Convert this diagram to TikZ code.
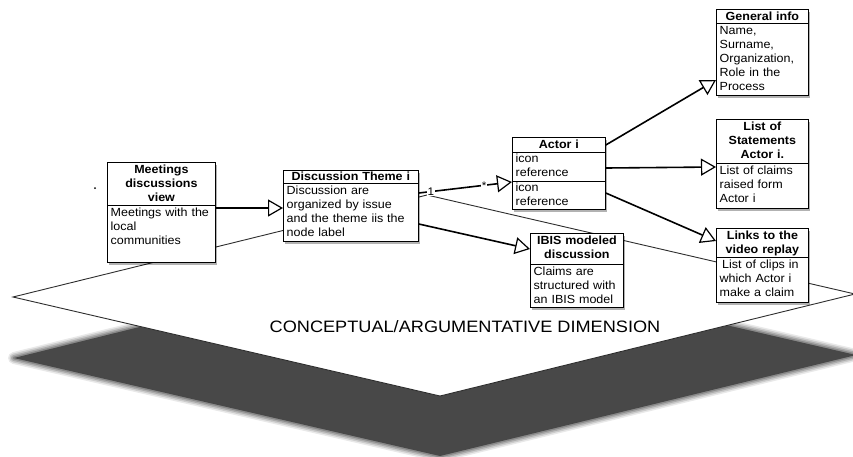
\documentclass[tikz,border=0pt]{standalone}
\usepackage{fontspec}
\setmainfont{Liberation Sans}[FakeStretch=1.06]
\newfontfamily\dimfont{Liberation Sans}[FakeStretch=1.1]
\usetikzlibrary{arrows.meta,shadows,calc}

\definecolor{shadowgray}{RGB}{72,72,72}
\definecolor{planeedge}{RGB}{45,45,45}

% first-line struts that fix the baseline below the top of a compartment
\newcommand\headstrut{\rule{0pt}{11.5pt}}
\newcommand\bodystrut{\rule{0pt}{11.5pt}}

\tikzset{
  umlbox/.style={draw=black, line width=0.8pt, fill=white, anchor=north west,
    inner sep=0pt,
    drop shadow={shadow xshift=2pt, shadow yshift=-2.5pt, fill=black, opacity=0.3}},
  divider/.style={draw=black, line width=0.8pt},
  headtext/.style={anchor=north, inner sep=0pt, text width=#1, align=center,
    font=\bfseries\fontsize{11.8}{14}\selectfont},
  bodytext/.style={anchor=north west, inner sep=0pt, text width=#1, align=left,
    font=\fontsize{11.8}{14}\selectfont},
  gen/.style={line width=1.6pt,
    -{Triangle[open, length=15pt, width=17pt, line width=1.2pt]}},
  multlabel/.style={fill=white, inner sep=1pt, font=\fontsize{11}{12}\selectfont},
  planeline/.style={draw=planeedge, line width=0.9pt, line join=miter},
}

\begin{document}
\begin{tikzpicture}[x=1pt, y=-1pt]
\useasboundingbox (0,0) rectangle (853,456);
\clip (0,0) rectangle (853,456);

% ---- the plane and its cast shadow ----
\coordinate (pl-left)   at (13,297);
\coordinate (pl-top)    at (427,195);
\coordinate (pl-right)  at (855,294);
\coordinate (pl-bottom) at (440,396);

\coordinate (sh-left)   at (14,358);
\coordinate (sh-top)    at (427,256);
\coordinate (sh-right)  at (856,355);
\coordinate (sh-bottom) at (440,456);

\foreach \w/\o in {12/0.12, 9/0.18, 6/0.25, 3/0.35}
  \draw[draw=shadowgray, line width=\w pt, opacity=\o, line join=round]
    (sh-left) -- (sh-top) -- (sh-right) -- (sh-bottom) -- cycle;
\fill[shadowgray] (sh-left) -- (sh-top) -- (sh-right) -- (sh-bottom) -- cycle;

\filldraw[fill=white, planeline]
  (pl-left) -- (pl-top) -- (pl-right) -- (pl-bottom) -- cycle;

\node[anchor=base, font=\dimfont\fontsize{16.5}{18}\selectfont] (dimlabel)
  at (465,332) {CONCEPTUAL/ARGUMENTATIVE DIMENSION};

% ---- class boxes ----
% Meetings discussions view
\node[umlbox, minimum width=108pt, minimum height=100pt] (meet) at (107,162) {};
\draw[divider] ($(meet.north west)+(0,43)$) -- ($(meet.north east)+(0,43)$);
\node[headtext=104pt] (meet-h) at (meet.north) {\headstrut Meetings\\discussions\\view};
\node[bodytext=102pt] (meet-b) at ($(meet.north west)+(3.5,43)$)
  {\bodystrut Meetings with the\\local\\communities};

% Discussion Theme i
\node[umlbox, minimum width=135pt, minimum height=71pt] (disc) at (283,170) {};
\draw[divider] ($(disc.north west)+(0,13)$) -- ($(disc.north east)+(0,13)$);
\node[headtext=131pt] (disc-h) at ($(disc.north)+(0,-1)$) {\headstrut Discussion Theme i};
\node[bodytext=129pt] (disc-b) at ($(disc.north west)+(3.5,13)$)
  {\bodystrut Discussion are\\organized by issue\\and the theme iis the\\node label};

% Actor i
\node[umlbox, minimum width=93pt, minimum height=72pt] (actor) at (512,137) {};
\draw[divider] ($(actor.north west)+(0,15)$) -- ($(actor.north east)+(0,15)$);
\draw[divider] ($(actor.north west)+(0,44)$) -- ($(actor.north east)+(0,44)$);
\node[headtext=89pt] (actor-h) at (actor.north) {\headstrut Actor i};
\node[bodytext=87pt] (actor-b1) at ($(actor.north west)+(3.5,14.5)$)
  {\rule{0pt}{10.5pt}icon\\reference};
\node[bodytext=87pt] (actor-b2) at ($(actor.north west)+(3.5,43.5)$)
  {\rule{0pt}{10.5pt}icon\\reference};

% IBIS modeled discussion
\node[umlbox, minimum width=93pt, minimum height=74pt] (ibis) at (530,233) {};
\draw[divider] ($(ibis.north west)+(0,31)$) -- ($(ibis.north east)+(0,31)$);
\node[headtext=89pt] (ibis-h) at (ibis.north) {\headstrut IBIS modeled\\discussion};
\node[bodytext=87pt] (ibis-b) at ($(ibis.north west)+(3.5,31)$)
  {\bodystrut Claims are\\structured with\\an IBIS model};

% General info
\node[umlbox, minimum width=92pt, minimum height=86pt] (gen) at (716,9) {};
\draw[divider] ($(gen.north west)+(0,14)$) -- ($(gen.north east)+(0,14)$);
\node[headtext=88pt] (gen-h) at (gen.north) {\headstrut General info};
\node[bodytext=86pt] (gen-b) at ($(gen.north west)+(3.5,14)$)
  {\bodystrut Name,\\Surname,\\Organization,\\Role in the\\Process};

% List of Statements Actor i.
\node[umlbox, minimum width=92pt, minimum height=89pt] (stat) at (716,119) {};
\draw[divider] ($(stat.north west)+(0,44)$) -- ($(stat.north east)+(0,44)$);
\node[headtext=88pt] (stat-h) at (stat.north) {\headstrut List of\\Statements\\Actor i.};
\node[bodytext=86pt] (stat-b) at ($(stat.north west)+(3.5,44)$)
  {\bodystrut List of claims\\raised form\\Actor i};

% Links to the video replay
\node[umlbox, minimum width=92pt, minimum height=74pt] (links) at (716,228) {};
\draw[divider] ($(links.north west)+(0,29)$) -- ($(links.north east)+(0,29)$);
\node[headtext=88pt] (links-h) at (links.north) {\headstrut Links to the\\video replay};
\node[bodytext=86pt] (links-b) at ($(links.north west)+(3.5,29)$)
  {\bodystrut\hspace{2.5pt}List of clips in\\which Actor i\\make a claim};

% stray marker left of the first box
\node[circle, fill=black, inner sep=0pt, minimum size=2pt] (dot) at (95,188) {};

% ---- connectors ----
\draw[gen] ($(meet.north east)+(0,46)$) -- ($(disc.north west)+(0,38)$);
\draw[gen] ($(disc.north east)+(0,23)$)
  -- node[pos=0.13, multlabel] (mult-one) {1}
     node[pos=0.70, multlabel] (mult-many) {*}
  ($(actor.north west)+(0,45)$);
\draw[gen] ($(disc.north east)+(0,54)$) -- ($(ibis.north west)+(0,16)$);
\draw[gen] ($(actor.north east)+(0,8)$) -- ($(gen.north west)+(0,71)$);
\draw[gen] ($(actor.north east)+(0,31)$) -- ($(stat.north west)+(0,48)$);
\draw[gen] ($(actor.north east)+(0,56)$) -- ($(links.north west)+(0,13)$);
\end{tikzpicture}
\end{document}
